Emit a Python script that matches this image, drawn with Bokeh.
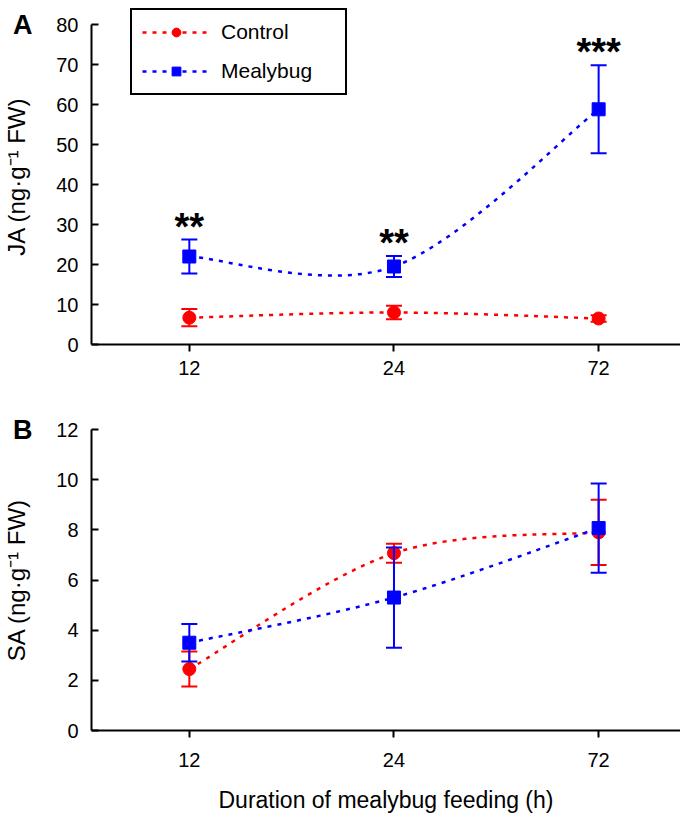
from bokeh.plotting import figure
from bokeh.models import Range1d, FixedTicker, Legend, LegendItem, LinearAxis
from bokeh.layouts import column
from bokeh.core.properties import value
from bokeh.embed import file_html
from bokeh.resources import INLINE

# ---------------- data ----------------
hours = ["12", "24", "72"]

ja_control = [6.7, 8.0, 6.5]
ja_control_err = [2.15, 1.7, 0.8]
ja_mealybug = [22.0, 19.5, 58.8]
ja_mealybug_err = [4.25, 2.6, 11.0]
ja_stars = ["**", "**", "***"]

sa_control = [2.45, 7.07, 7.9]
sa_control_err = [0.7, 0.38, 1.3]
sa_mealybug = [3.5, 5.3, 8.07]
sa_mealybug_err = [0.75, 2.0, 1.78]

ja_ticks = [0, 10, 20, 30, 40, 50, 60, 70, 80]
sa_ticks = [0, 2, 4, 6, 8, 10, 12]

RED = "#ff0000"
BLUE = "#0000ff"
FONT = "Liberation Sans"
xs = [i + 1 for i in range(len(hours))]


def bezier_cols(x, y):
    n = len(x)
    P = list(zip(x, y))
    d = dict(x0=[], y0=[], x1=[], y1=[], cx0=[], cy0=[], cx1=[], cy1=[])
    for i in range(n - 1):
        pm = P[i - 1] if i > 0 else P[i]
        p0, p1 = P[i], P[i + 1]
        pp = P[i + 2] if i + 2 < n else P[i + 1]
        d["x0"].append(p0[0]); d["y0"].append(p0[1])
        d["x1"].append(p1[0]); d["y1"].append(p1[1])
        d["cx0"].append(p0[0] + (p1[0] - pm[0]) / 6)
        d["cy0"].append(p0[1] + (p1[1] - pm[1]) / 6)
        d["cx1"].append(p1[0] - (pp[0] - p0[0]) / 6)
        d["cy1"].append(p1[1] - (pp[1] - p0[1]) / 6)
    return d


def style(p, yticks, ybounds, ylabel, letter):
    p.grid.visible = False
    p.outline_line_color = None
    p.background_fill_color = "white"
    p.border_fill_color = "white"
    for ax in (p.xaxis[0], p.yaxis[0]):
        ax.axis_line_width = 2
        ax.axis_line_color = "black"
        ax.major_tick_line_width = 2
        ax.major_tick_line_color = "black"
        ax.minor_tick_line_color = None
        ax.major_label_text_font = FONT
        ax.major_label_text_font_size = "20px"
        ax.major_label_text_color = "black"
        ax.axis_label_text_font = FONT
        ax.axis_label_text_font_size = "24px"
        ax.axis_label_text_font_style = "normal"
        ax.axis_label_text_color = "black"
    p.xaxis.ticker = FixedTicker(ticks=xs)
    p.xaxis.major_label_overrides = {x: h for x, h in zip(xs, hours)}
    p.xaxis.major_tick_in = 0
    p.xaxis.major_tick_out = 7
    p.yaxis.ticker = FixedTicker(ticks=yticks)
    p.yaxis.bounds = ybounds
    p.yaxis.major_tick_in = 7
    p.yaxis.major_tick_out = 0
    p.yaxis.major_label_standoff = 13

    # outer left axis: carries the panel letter (at the top tick) and the axis title
    top = yticks[-1]
    outer = LinearAxis(ticker=FixedTicker(ticks=[top]),
                       major_label_overrides={top: letter},
                       axis_line_color=None, major_tick_line_color=None,
                       minor_tick_line_color=None,
                       major_tick_in=0, major_tick_out=0,
                       major_label_standoff=21,
                       major_label_text_font=FONT, major_label_text_font_size="27px",
                       major_label_text_font_style="bold", major_label_text_color="black",
                       axis_label=ylabel, axis_label_standoff=-20,
                       axis_label_text_font=FONT, axis_label_text_font_size="24px",
                       axis_label_text_font_style="normal", axis_label_text_color="black")
    p.add_layout(outer, "left")


def series(p, vals, errs, color):
    lo = [v - e for v, e in zip(vals, errs)]
    hi = [v + e for v, e in zip(vals, errs)]
    line = p.bezier(source=bezier_cols(xs, vals), x0="x0", y0="y0", x1="x1", y1="y1",
                    cx0="cx0", cy0="cy0", cx1="cx1", cy1="cy1",
                    line_color=color, line_width=2.5, line_dash="4 6")
    return line, lo, hi


def points(p, vals, lo, hi, color, marker):
    p.segment(x0=xs, y0=lo, x1=xs, y1=hi, line_color=color, line_width=2)
    p.scatter(x=xs, y=hi, marker="dash", size=16, line_color=color, line_width=2)
    p.scatter(x=xs, y=lo, marker="dash", size=16, line_color=color, line_width=2)
    sc = p.scatter(x=xs, y=vals, marker=marker, size=13, fill_color=color, line_color=color)
    return sc


# ---------------- panel A ----------------
pA = figure(width=680, height=400, x_range=Range1d(0.522, 3.40), y_range=Range1d(0, 84),
            output_backend="svg", toolbar_location=None,
            min_border_left=90, min_border_right=0, min_border_top=8, min_border_bottom=56)
style(pA, ja_ticks, (0, 80), "JA (ng\u00b7g\u207b\u00b9 FW)", "A")
pA.xaxis.major_label_standoff = 9

lc, lo_c, hi_c = series(pA, ja_control, ja_control_err, RED)
lm, lo_m, hi_m = series(pA, ja_mealybug, ja_mealybug_err, BLUE)
sc_c = points(pA, ja_control, lo_c, hi_c, RED, "circle")
sc_m = points(pA, ja_mealybug, lo_m, hi_m, BLUE, "square")
pA.text(x=xs, y=hi_m, text=ja_stars, text_font=value(FONT), text_font_size="38px",
        text_font_style="bold", text_align="center", text_baseline="alphabetic",
        y_offset=-13, text_color="black")

legend = Legend(items=[LegendItem(label="Control", renderers=[lc, sc_c]),
                       LegendItem(label="Mealybug", renderers=[lm, sc_m])],
                location=(39, 249), glyph_width=68, glyph_height=22, label_height=22,
                label_width=114, spacing=15, padding=10, label_standoff=11, margin=0,
                border_line_color="black", border_line_width=2, border_line_alpha=1.0,
                label_text_font=FONT, label_text_font_size="21px",
                label_text_color="black", background_fill_alpha=1.0)
pA.add_layout(legend, "center")

# ---------------- panel B ----------------
pB = figure(width=680, height=418, x_range=Range1d(0.522, 3.40), y_range=Range1d(0, 12),
            output_backend="svg", toolbar_location=None,
            min_border_left=90, min_border_right=0, min_border_top=29, min_border_bottom=88)
style(pB, sa_ticks, (0, 12), "SA (ng\u00b7g\u207b\u00b9 FW)", "B")
pB.xaxis.major_label_standoff = 15
pB.xaxis.axis_label = "Duration of mealybug feeding (h)"
pB.xaxis.axis_label_text_font_size = "23px"
pB.xaxis.axis_label_standoff = 17

lcB, lo_cB, hi_cB = series(pB, sa_control, sa_control_err, RED)
lmB, lo_mB, hi_mB = series(pB, sa_mealybug, sa_mealybug_err, BLUE)
points(pB, sa_control, lo_cB, hi_cB, RED, "circle")
points(pB, sa_mealybug, lo_mB, hi_mB, BLUE, "square")

layout = column(pA, pB, spacing=0)
open("out.html", "w").write(file_html(layout, INLINE))
